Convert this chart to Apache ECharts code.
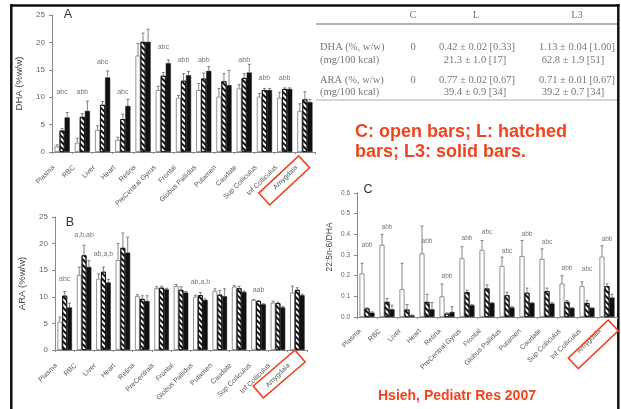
<!DOCTYPE html>
<html><head><meta charset="utf-8">
<script src="https://cdn.jsdelivr.net/npm/echarts@6/dist/echarts.min.js"></script>
<style>html,body{margin:0;padding:0;background:#fff}#c{width:621px;height:409px}</style>
</head><body><div id="c"></div>
<script>
// ---------- DATA ----------
const categoriesA = ['Plasma','RBC','Liver','Heart','Retina','PreCentral Gyrus','Frontal','Globus Pallidus','Putamen','Caudate','Sup Colliculus','Inf Colliculus','Amygdala'];
const categoriesB = ['Plasma','RBC','Liver','Heart','Retina','PreCentrals','Frontal','Globus Pallidus','Putamen','Caudate','Sup Colliculus','Inf Colliculus','Amygdala'];
const categoriesC = ['Plasma','RBC','Liver','Heart','Retina','PreCentral Gyrus','Frontal','Globus Pallidus','Putamen','Caudate','Sup Colliculus','Inf Colliculus','Amygdala'];

// Panel A: DHA (%w/w)
const dhaC  = [1.0,1.7,4.0,2.2,17.6,11.3,9.9,11.3,10.1,11.6,10.1,9.9,7.5];
const dhaL  = [3.9,6.4,8.6,6.0,20.1,13.9,13.0,13.4,12.9,13.5,11.3,11.5,9.6];
const dhaL3 = [6.3,7.5,13.6,8.4,20.1,16.2,14.0,14.8,12.2,14.5,11.3,11.5,9.1];
const dhaCerr  = [0.3,0.8,0.8,0.5,2.2,0.7,0.4,1.2,1.5,0.7,0.6,1.0,1.3];
const dhaLerr  = [0.4,0.6,0.6,0.9,1.6,0.6,1.3,1.0,1.4,0.8,0.3,0.2,1.4];
const dhaL3err = [0.9,1.8,1.2,1.2,2.3,0.6,0.7,0.8,2.7,1.5,0.3,0.2,0.5];
const annotA  = ['abc','abb','abc','abc','','abc','abb','abb','','abb','abb','abb',''];
const annotAy = [10.9,10.9,16.4,10.9,0,19.2,16.8,16.8,0,16.8,13.5,13.5,0];

// Panel B: ARA (%w/w)
const araC  = [5.3,14.1,13.4,16.9,10.1,11.6,12.0,10.0,11.1,11.9,9.4,8.9,10.8];
const araL  = [10.2,17.8,14.7,19.2,9.6,11.7,11.3,10.3,10.4,11.6,9.2,8.8,11.3];
const araL3 = [8.0,15.6,12.7,18.3,9.2,11.4,10.8,9.4,10.1,10.9,8.6,8.0,10.3];
const araCerr  = [0.9,1.5,0.9,3.1,0.3,0.3,0.3,0.3,0.4,0.2,0.1,0.3,1.2];
const araLerr  = [0.8,1.9,0.9,2.8,0.6,0.3,0.6,0.5,0.8,0.4,0.1,0.2,0.4];
const araL3err = [0.8,1.2,0.6,2.9,1.0,0.2,0.2,0.2,1.4,0.2,0.1,0.2,0.2];
const annotB  = ['abc','a,b,ab','ab,a,b','','','','','ab,a,b','','','aab','',''];
const annotBy = [13.3,21.6,18.0,0,0,0,0,12.8,0,0,11.25,0,0];

// Panel C: 22:5n-6/DHA
const ratC  = [0.211,0.349,0.135,0.308,0.100,0.284,0.325,0.247,0.295,0.281,0.162,0.149,0.292];
const ratL  = [0.041,0.073,0.036,0.073,0.016,0.120,0.138,0.105,0.117,0.125,0.073,0.068,0.149];
const ratL3 = [0.021,0.037,0.008,0.037,0.024,0.057,0.068,0.046,0.068,0.065,0.044,0.044,0.094];
const ratCerr  = [0.049,0.051,0.125,0.132,0.060,0.056,0.045,0.043,0.075,0.049,0.038,0.021,0.053];
const ratLerr  = [0.004,0.017,0.024,0.037,0.004,0.010,0.017,0.015,0.023,0.015,0.007,0.012,0.011];
const ratL3err = [0.004,0.020,0.002,0.033,0.026,0.003,0.002,0.004,0.002,0.005,0.001,0.001,0.016];
const annotC  = ['abb','abb','','abb','abb','abb','abc','abc','abb','abc','abb','abc','abb'];
const annotCy = [0.349,0.433,0,0.365,0.195,0.383,0.409,0.320,0.402,0.360,0.237,0.232,0.378];

// Table and notes
const tableHeader = ['C','L','L3'];
const tableRowLabels = ['DHA (%, w/w)','(mg/100 kcal)','ARA (%, w/w)','(mg/100 kcal)'];
const tableColC  = ['0','','0',''];
const tableColL  = ['0.42 \u00b1 0.02 [0.33]','21.3 \u00b1 1.0 [17]','0.77 \u00b1 0.02 [0.67]','39.4 \u00b1 0.9 [34]'];
const tableColL3 = ['1.13 \u00b1 0.04 [1.00]','62.8 \u00b1 1.9 [51]','0.71 \u00b1 0.01 [0.67]','39.2 \u00b1 0.7 [34]'];
const noteLines = ['C: open bars; L: hatched','bars; L3: solid bars.'];
const citation = 'Hsieh, Pediatr Res 2007';
const panelLetters = ['A','B','C'];

// ---------- STYLE ----------
const FONT = "'Liberation Sans', Arial, sans-serif";
const SERIF = "'Liberation Serif', 'Times New Roman', serif";
const RED = '#f0441e';
const TBL = '#777';
const GAP = 0.25;

const hatch = {symbol:'rect', symbolSize:1, color:'#111', dashArrayX:[1,0], dashArrayY:[2,2], rotation:Math.PI/4};

function errRender(k){
  return function(params, api){
    const idx = api.value(0), v = api.value(1), e = api.value(2);
    const bw = api.size([1,0])[0];
    const w = bw*(1-GAP)/3;
    const x = api.coord([idx,0])[0] + (k-1)*w;
    const y0 = api.coord([idx,v])[1];
    const y1 = api.coord([idx,v+e])[1];
    return {type:'group', children:[
      {type:'line', shape:{x1:x,y1:y0,x2:x,y2:y1}, style:{stroke:'#666',lineWidth:0.8}},
      {type:'line', shape:{x1:x-1.5,y1:y1,x2:x+1.5,y2:y1}, style:{stroke:'#666',lineWidth:0.8}}
    ]};
  };
}
function annotRender(labels, fs){
  return function(params, api){
    const i = api.value(0), y = api.value(1);
    const p = api.coord([i,y]);
    return {type:'text', x:p[0], y:p[1], style:{text:labels[i], fill:'#777', fontSize:fs, fontFamily:FONT, align:'center', verticalAlign:'middle'}};
  };
}
function panelSeries(ai, vals, errs, labels, ly, fs){
  const s = [];
  const styles = [
    {color:'#fff', borderColor:'#777', borderWidth:0.8},
    {color:'#fff', borderColor:'#111', borderWidth:0.8, decal:hatch},
    {color:'#111', borderColor:'#111', borderWidth:0.5}
  ];
  for(let k=0;k<3;k++){
    s.push({type:'bar', xAxisIndex:ai, yAxisIndex:ai, data:vals[k], barGap:'0%', barCategoryGap:(GAP*100)+'%', itemStyle:styles[k], silent:true, z:2});
  }
  for(let k=0;k<3;k++){
    s.push({type:'custom', xAxisIndex:ai, yAxisIndex:ai, renderItem:errRender(k), encode:{x:0,y:1},
      data:vals[k].map((v,i)=>[i,v,errs[k][i]]), silent:true, z:3});
  }
  const ad = [];
  labels.forEach((t,i)=>{ if(t) ad.push([i, ly[i]]); });
  s.push({type:'custom', xAxisIndex:ai, yAxisIndex:ai, renderItem:annotRender(labels, fs), encode:{x:0,y:1}, data:ad, silent:true, z:4});
  return s;
}
function xAx(ai, cats, fs, pad){
  return {type:'category', gridIndex:ai, data:cats,
    axisLine:{show:true, lineStyle:{color:'#888', width:1}},
    axisTick:{show:true, length:2, lineStyle:{color:'#888'}},
    axisLabel:{interval:0, rotate:45, fontSize:fs, color:'#555', fontFamily:FONT, margin:6, padding:[0,pad,0,0]},
    splitLine:{show:false}};
}
function yAx(ai, max, step, name, gap, fs, nfs, dec, namePad){
  return {type:'value', gridIndex:ai, min:0, max:max, interval:step,
    axisLine:{show:true, lineStyle:{color:'#888', width:1}},
    axisTick:{show:true, length:3, lineStyle:{color:'#888'}},
    axisLabel:{fontSize:fs, color:'#666', fontFamily:FONT, margin:7, formatter:v=>v.toFixed(dec)},
    splitLine:{show:false},
    name:name, nameLocation:'middle', nameGap:gap, nameRotate:90,
    nameTextStyle:{fontSize:nfs, color:'#444', fontFamily:FONT, padding:namePad||0}};
}

// ---------- GRAPHICS ----------
const g = [];
// frame
g.push({type:'line', shape:{x1:10,y1:5.5,x2:619.5,y2:5.5}, style:{stroke:'#111',lineWidth:2.5}});
g.push({type:'line', shape:{x1:11.3,y1:4,x2:11.3,y2:409}, style:{stroke:'#111',lineWidth:2.5}});
g.push({type:'line', shape:{x1:618.3,y1:4,x2:618.3,y2:409}, style:{stroke:'#111',lineWidth:2.5}});
// table
const hx = [413,476,577];
tableHeader.forEach((t,i)=>g.push({type:'text', x:hx[i], y:15, style:{text:t, fill:TBL, fontSize:10.5, fontFamily:SERIF, align:'center', verticalAlign:'middle'}}));
g.push({type:'line', shape:{x1:316,y1:24,x2:617,y2:24}, style:{stroke:'#999',lineWidth:1.5}});
g.push({type:'line', shape:{x1:316,y1:100,x2:617,y2:100}, style:{stroke:'#c8c8c8',lineWidth:1.5}});
const rowY = [47,60,80,92];
tableRowLabels.forEach((t,i)=>{
  g.push({type:'text', x:320, y:rowY[i], style:{text:t, fill:TBL, fontSize:10.5, fontFamily:SERIF, align:'left', verticalAlign:'middle'}});
  if(tableColC[i]) g.push({type:'text', x:413, y:rowY[i], style:{text:tableColC[i], fill:TBL, fontSize:10.5, fontFamily:SERIF, align:'center', verticalAlign:'middle'}});
  g.push({type:'text', x:(i%2?475:477), y:rowY[i], style:{text:tableColL[i], fill:TBL, fontSize:10.5, fontFamily:SERIF, align:'center', verticalAlign:'middle'}});
  g.push({type:'text', x:(i%2?573:577), y:rowY[i], style:{text:tableColL3[i], fill:TBL, fontSize:10.5, fontFamily:SERIF, align:'center', verticalAlign:'middle'}});
});
// red notes
noteLines.forEach((t,i)=>g.push({type:'text', x:355, y:132+i*20, style:{text:t, fill:RED, fontSize:18, fontWeight:'bold', fontFamily:FONT, align:'left', verticalAlign:'middle'}}));
g.push({type:'text', x:378, y:396, style:{text:citation, fill:RED, fontSize:14, fontWeight:'bold', fontFamily:FONT, align:'left', verticalAlign:'middle'}});
// panel letters
const letterPos = [[68,15],[70,223],[368,190]];
panelLetters.forEach((t,i)=>g.push({type:'text', x:letterPos[i][0], y:letterPos[i][1], style:{text:t, fill:'#333', fontSize:12.5, fontFamily:FONT, align:'center', verticalAlign:'middle'}}));
// red boxes around "Amygdala"
const boxes = [[284.2,180.4,54.5,16,43],[279.2,374,55,15.6,40.6],[593.3,344.3,55,14.6,43.5]];
boxes.forEach(b=>g.push({type:'rect', x:b[0], y:b[1], rotation:b[4]*Math.PI/180,
  shape:{x:-b[2]/2, y:-b[3]/2, width:b[2], height:b[3]}, style:{fill:'none', stroke:RED, lineWidth:1.6}, z:100}));

// ---------- OPTION ----------
const option = {
  animation:false,
  backgroundColor:'#fff',
  textStyle:{fontFamily:FONT},
  grid:[
    {left:52, top:15, width:263, height:137, outerBoundsMode:'none', containLabel:false},
    {left:55, top:217, width:252, height:133, outerBoundsMode:'none', containLabel:false},
    {left:357, top:193, width:260, height:124, outerBoundsMode:'none', containLabel:false}
  ],
  xAxis:[xAx(0,categoriesA,7,12), xAx(1,categoriesB,7,12), xAx(2,categoriesC,7,10)],
  yAxis:[yAx(0,25,5,'DHA (%w/w)',28,8,9.5,0), yAx(1,25,5,'ARA (%w/w)',28,8,9.5,0), yAx(2,0.6,0.1,'22:5n-6/DHA',23,6.5,8.5,1,[0,0,0,16])],
  series:[].concat(
    panelSeries(0,[dhaC,dhaL,dhaL3],[dhaCerr,dhaLerr,dhaL3err],annotA,annotAy,7),
    panelSeries(1,[araC,araL,araL3],[araCerr,araLerr,araL3err],annotB,annotBy,7),
    panelSeries(2,[ratC,ratL,ratL3],[ratCerr,ratLerr,ratL3err],annotC,annotCy,6.5)
  ),
  graphic:g
};
const chart = echarts.init(document.getElementById('c'), null, {renderer:'canvas'});
chart.setOption(option);
</script></body></html>
